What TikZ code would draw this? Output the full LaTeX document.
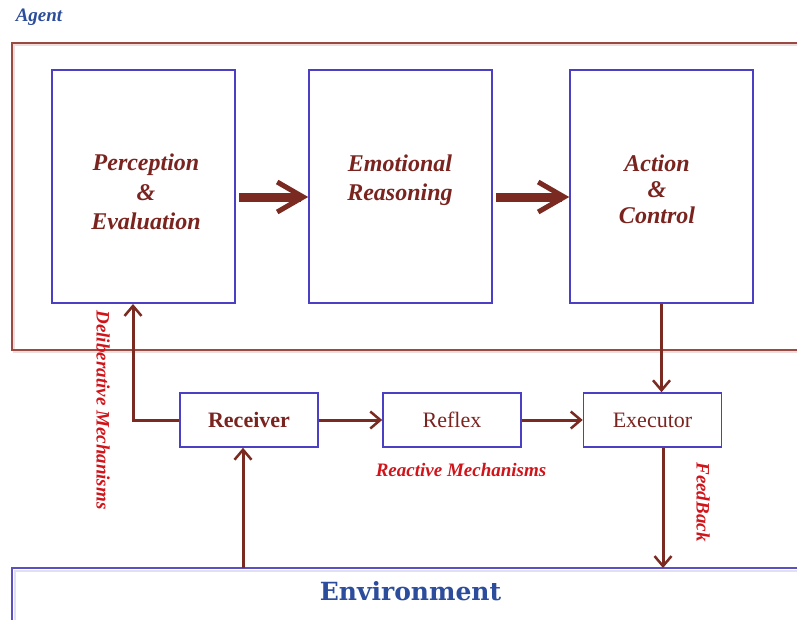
\documentclass[tikz,border=0pt]{standalone}
\usepackage{fontspec}
\setmainfont{Liberation Serif}
\newfontfamily\envfont{DejaVu Serif}
\usetikzlibrary{arrows.meta}
\definecolor{frameBrown}{HTML}{9A4A42}
\definecolor{arrowBrown}{HTML}{7A2A20}
\definecolor{boxBlue}{HTML}{4B3FC4}
\definecolor{textBrown}{HTML}{7A2420}
\definecolor{mechRed}{HTML}{D0141A}
\definecolor{envBlue}{HTML}{2C4C9C}
\definecolor{envLine}{HTML}{5A50C0}
\begin{document}
\begin{tikzpicture}[x=1pt,y=-1pt,
  bigbox/.style={draw=boxBlue, line width=1.6pt, minimum width=183pt, minimum height=233pt, inner sep=0pt},
  smallbox/.style={draw=boxBlue, line width=1.6pt, minimum width=138pt, minimum height=54pt, inner sep=0pt, text=textBrown, font=\fontsize{22}{26}\selectfont},
  bigtext/.style={text=textBrown, font=\fontsize{24}{29.5}\selectfont\bfseries\itshape, align=center},
  thinarrow/.style={draw=arrowBrown, line width=3pt, -{Straight Barb[length=10pt,width=17pt,line width=2.5pt]}},
  thickarrow/.style={draw=arrowBrown, line width=9pt, -{Straight Barb[length=26pt,width=30pt,line width=5pt]}},
  mech/.style={text=mechRed, font=\fontsize{19}{22}\selectfont\bfseries\itshape}
]
\useasboundingbox (0,0) rectangle (797,619);
\fill[white] (0,0) rectangle (797,619);

% Agent frame
\draw[frameBrown!18, line width=2pt] (797,45) -- (14,45) -- (14,352) -- (797,352);
\draw[frameBrown, line width=1.6pt] (797,43) -- (12,43) -- (12,350) -- (797,350);
\node[text=envBlue, font=\fontsize{19}{21}\selectfont\bfseries\itshape] (agent) at (39,17) {Agent};

% Big boxes
\node[bigbox] (pe) at (143.5,186.5) {};
\node[bigbox] (er) at (400.5,186.5) {};
\node[bigbox] (ac) at (661.5,186.5) {};
\node[bigtext] (petext) at (146,192) {Perception\\\&\\Evaluation};
\node[bigtext] (ertext) at (400,180) {Emotional\\Reasoning};
\node[bigtext, font=\fontsize{24}{26}\selectfont\bfseries\itshape] (actext) at (657,189) {Action\\\&\\Control};

\draw[thickarrow] (pe.east |- 0,197) ++(3,0) -- (er.west |- 0,197);
\draw[thickarrow] (er.east |- 0,197) ++(3,0) -- (ac.west |- 0,197);

% Small boxes
\node[smallbox, font=\fontsize{22}{26}\selectfont\bfseries] (recv) at (249,420) {Receiver};
\node[smallbox] (reflex) at (452,420) {Reflex};
\node[smallbox] (exec) at (652.5,420) {Executor};

\draw[thinarrow] (recv) -- (reflex);
\draw[thinarrow] (reflex) -- (exec);
\draw[thinarrow] (ac.south) -- (ac.south |- exec.north);

\coordinate (delib) at (133,304);
\draw[thinarrow] (recv.west) -| (delib);

% Environment
\draw[envLine!18, line width=2pt] (797,570.5) -- (14.5,570.5) -- (14.5,620);
\draw[envLine, line width=1.8pt] (797,568) -- (12,568) -- (12,620);
\coordinate (envRecv) at (243,568);
\coordinate (envExec) at (663,568);
\draw[thinarrow] (envRecv) -- (envRecv |- recv.south);
\draw[thinarrow] (envExec |- exec.south) -- (envExec);
\node[text=envBlue, font=\envfont\fontsize{25}{28}\selectfont\bfseries] (env) at (410.5,591) {Environment};

% Labels
\node[mech, rotate=-90] (delibtext) at (103,410) {Deliberative Mechanisms};
\node[mech] (reacttext) at (461,470) {Reactive Mechanisms};
\node[mech, rotate=-90] (feedtext) at (703,502) {FeedBack};
\end{tikzpicture}
\end{document}
